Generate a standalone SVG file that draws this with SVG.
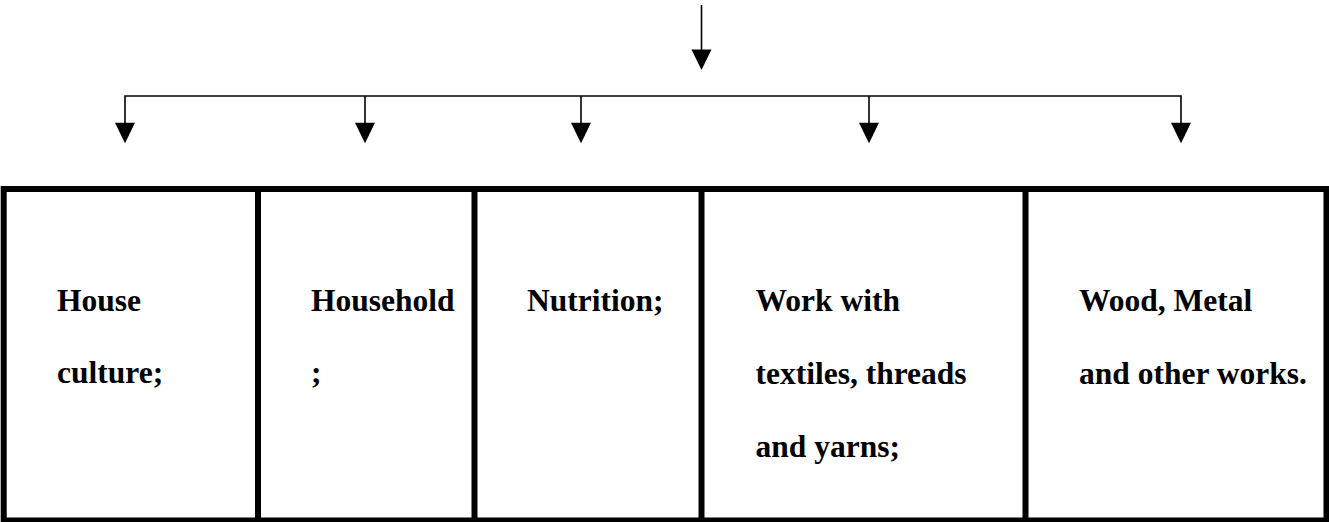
<svg xmlns="http://www.w3.org/2000/svg" width="1329" height="522" viewBox="0 0 1329 522">
<style>
.c{stroke:#000;stroke-width:1.6;fill:none}
.h{fill:#000}
.b{stroke:#000;stroke-width:6;fill:none}
.t{font-family:"Liberation Serif","Times New Roman",serif;font-weight:bold;font-size:31.5px;fill:#000}
</style>
<defs>
<path id="ah" d="M-10,0 L10,0 L0,20.5 Z"/>
</defs>
<rect width="1329" height="522" fill="#fff"/>
<g id="connectors">
<line class="c" x1="701.5" y1="5" x2="701.5" y2="50"/>
<use href="#ah" class="h" x="701.5" y="49.5"/>
<polyline class="c" points="125,123 125,96 1181,96 1181,123"/>
<line class="c" x1="365" y1="96" x2="365" y2="123"/>
<line class="c" x1="581" y1="96" x2="581" y2="123"/>
<line class="c" x1="869" y1="96" x2="869" y2="123"/>
<use href="#ah" class="h" x="125" y="122.8"/>
<use href="#ah" class="h" x="365" y="122.8"/>
<use href="#ah" class="h" x="581" y="122.8"/>
<use href="#ah" class="h" x="869" y="122.8"/>
<use href="#ah" class="h" x="1181" y="122.8"/>
</g>
<g id="table">
<rect class="b" x="3.7" y="189" width="1322.8" height="331.5"/>
</g>
<g id="node1">
<line class="b" x1="258" y1="189" x2="258" y2="520"/>
<text class="t" x="57" y="311">House</text>
<text class="t" x="57" y="383">culture;</text>
</g>
<g id="node2">
<line class="b" x1="474.5" y1="189" x2="474.5" y2="520"/>
<text class="t" x="311" y="311">Household</text>
<text class="t" x="311" y="383">;</text>
</g>
<g id="node3">
<line class="b" x1="701.5" y1="189" x2="701.5" y2="520"/>
<text class="t" x="527" y="311">Nutrition;</text>
</g>
<g id="node4">
<line class="b" x1="1025.5" y1="189" x2="1025.5" y2="520"/>
<text class="t" x="755.5" y="311">Work with</text>
<text class="t" x="755.5" y="383.5">textiles, threads</text>
<text class="t" x="755.5" y="456.5">and yarns;</text>
</g>
<g id="node5">
<text class="t" x="1079" y="311">Wood, Metal</text>
<text class="t" x="1079" y="383.5">and other works.</text>
</g>
</svg>
